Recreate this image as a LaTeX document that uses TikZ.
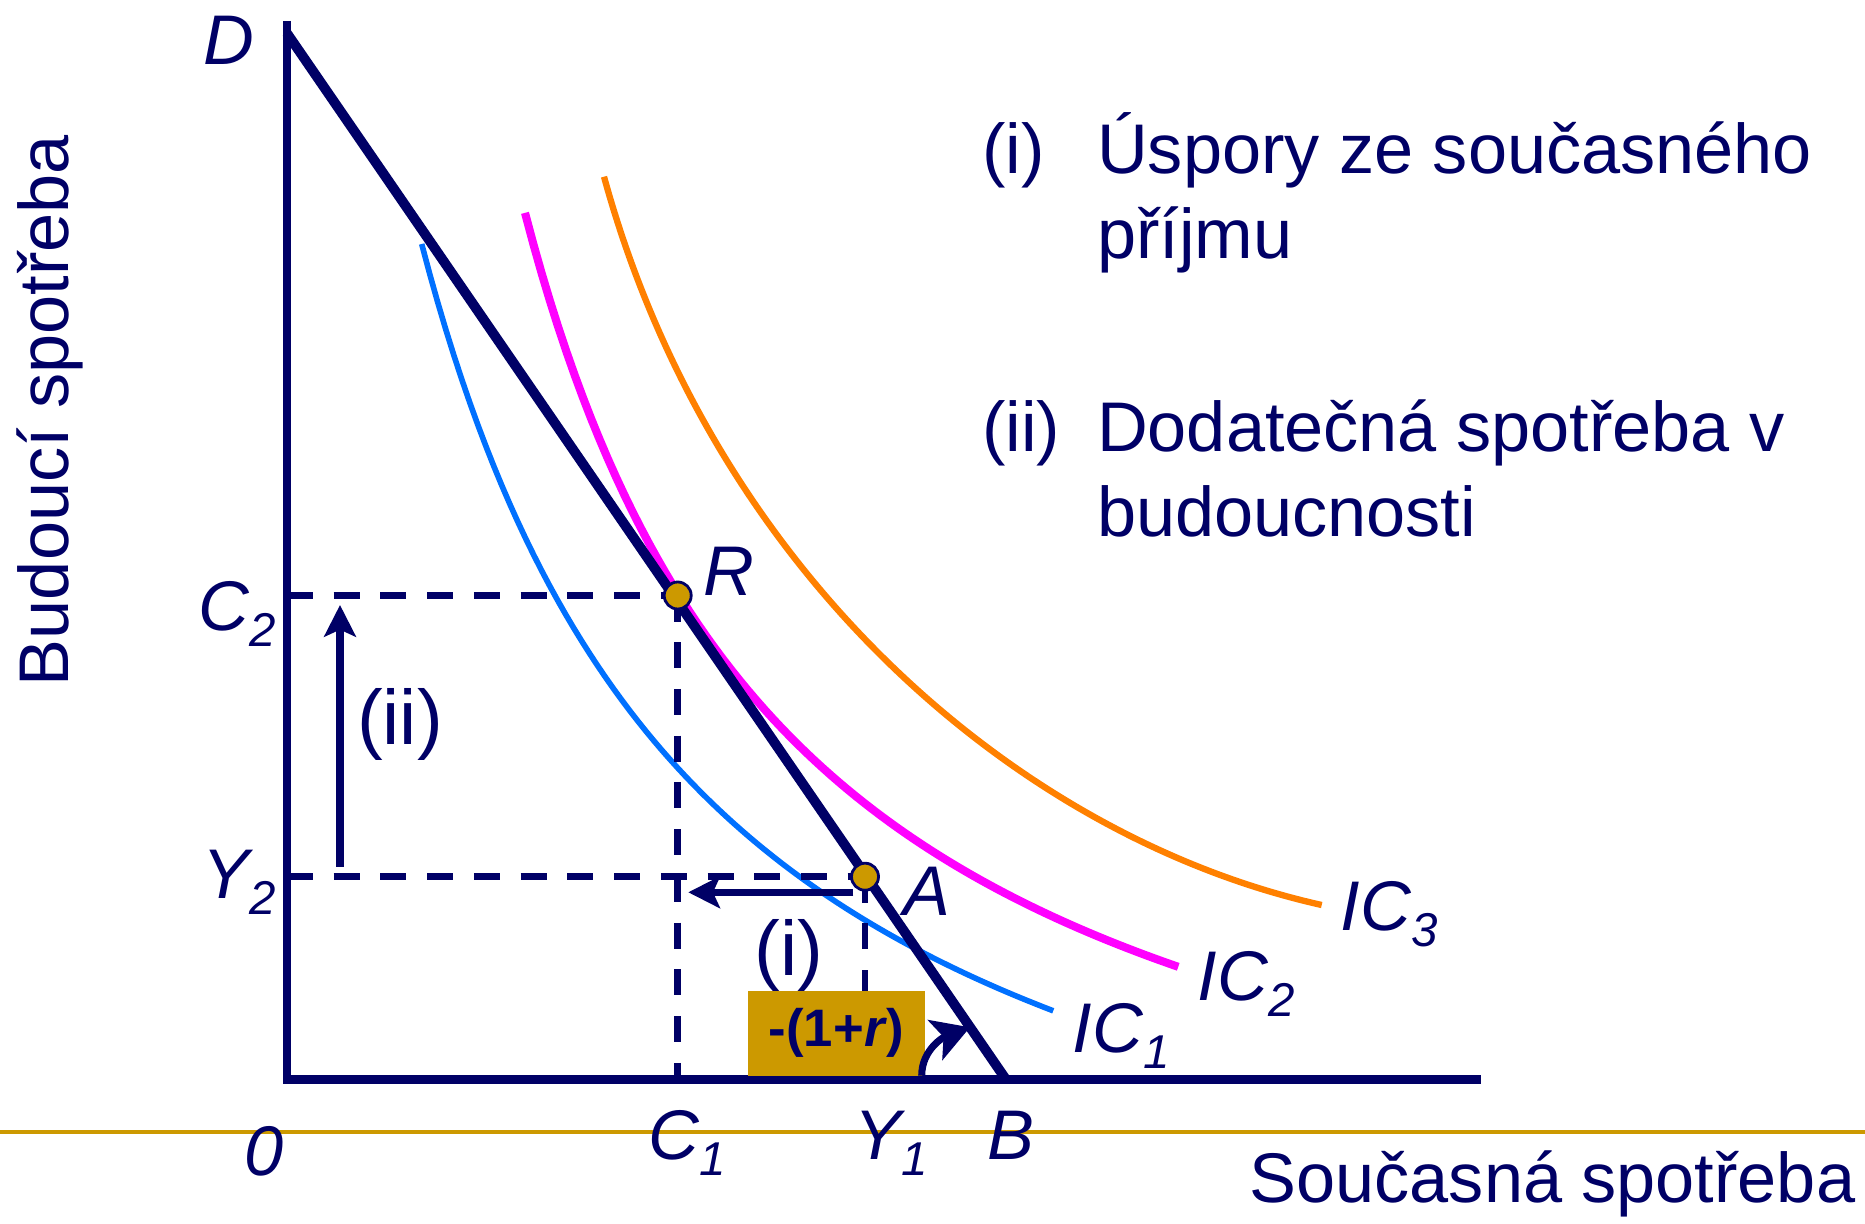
\documentclass[tikz,border=0pt]{standalone}
\usepackage{fontspec}
\setmainfont{Liberation Sans}
\usetikzlibrary{arrows.meta}

\definecolor{navy}{RGB}{0,0,102}
\definecolor{gold}{RGB}{204,153,0}
\definecolor{icblue}{RGB}{0,112,255}
\definecolor{icmagenta}{RGB}{255,0,255}
\definecolor{icorange}{RGB}{255,128,0}

\newcommand{\lowidx}[1]{\raisebox{-0.24em}{\fontsize{13.5}{14}\selectfont #1}}

\tikzset{
    axisline/.style={navy, line width=2.4pt, line join=miter},
    budget/.style={navy, line width=2.8pt},
    guide/.style={navy, line width=1.9pt, dash pattern=on 7.4pt off 5.9pt},
    moveline/.style={navy, line width=2pt, -{Stealth[length=9pt, width=9pt, inset=2pt]}},
    dot/.style={circle, fill=gold, draw=navy, line width=0.8pt, minimum size=0.27cm, inner sep=0pt},
    lab/.style={anchor=base west, font=\fontsize{20}{24.2}\selectfont\itshape},
}

\begin{document}
\begin{tikzpicture}[every node/.style={text=navy, inner sep=0pt}, font=\fontsize{20}{24.2}\selectfont]

        \useasboundingbox (0,0) rectangle (18.65,12.23);

        \coordinate (O) at (2.868, 1.435);   % origin
        \coordinate (Top) at (2.868, 12.02); % top of y axis
        \coordinate (Right) at (14.81, 1.435); % end of x axis
        \coordinate (Dpt) at (2.868, 11.90);
        \coordinate (Bpt) at (10.06, 1.435);
        \coordinate (R) at (6.777, 6.275);
        \coordinate (A) at (8.65, 3.463);
        \coordinate (C2ax) at (2.868, 6.275);
        \coordinate (Y2ax) at (2.868, 3.463);
        \coordinate (C1ax) at (6.777, 1.435);
        \coordinate (Y1ax) at (8.65, 1.435);

        % baseline strip
        \coordinate (GL) at (0, 0.91);
        \coordinate (GR) at (18.65, 0.91);
        \draw[gold, line width=1.2pt] (GL) -- (GR);

        % indifference curves
        \draw[icblue, line width=1.6pt] plot[domain=4.217:10.533, samples=80] (\x, {-1.42+32.7/(\x-1.3)});
        \draw[icmagenta, line width=2.3pt] plot[domain=5.25:11.783, samples=80] (\x, {-0.67+30.16/(\x-2.45)});
        \coordinate (IC3s) at (6.04, 10.463);
        \coordinate (IC3e) at (13.217, 3.18);
        \draw[icorange, line width=1.8pt] (IC3s) .. controls (7.14, 6.459) and (10.217, 3.85) .. (IC3e);

        % guides
        \draw[guide] (C2ax) -- (R);
        \draw[guide] (R) -- (C1ax);
        \draw[guide] (Y2ax) -- (A);
        \draw[guide] (A) -- (Y1ax);

        % budget line and axes
        \draw[budget] (Dpt) -- (Bpt);
        \draw[axisline] (Top) -- (O) -- (Right);

        % moves (i) and (ii)
        \coordinate (iS) at (8.533, 3.307);
        \coordinate (iE) at (6.883, 3.307);
        \coordinate (iiS) at (3.40, 3.563);
        \coordinate (iiE) at (3.40, 6.18);
        \draw[moveline] (iS) -- (iE);
        \draw[moveline] (iiS) -- (iiE);

        \node[dot] (Rdot) at (R) {};
        \node[dot] (Adot) at (A) {};

        \node[font=\fontsize{22}{24}\selectfont] (iLab) at (7.89, 2.68) {(i)};
        \node[font=\fontsize{22}{24}\selectfont] (iiLab) at (4.00, 4.99) {(ii)};

        % slope
        \node[fill=gold, minimum width=1.767cm, minimum height=0.847cm, font=\fontsize{15}{16}\selectfont\bfseries] (Slope) at (8.367, 1.897) {-(1+\textit{r})};
        \coordinate (ArcS) at (9.217, 1.473);
        \coordinate (ArcE) at (9.70, 1.957);
        \draw[navy, line width=2pt, -{Stealth[length=10.5pt, width=12pt, inset=2.5pt]}] (ArcS) to[out=90, in=200] (ArcE);

        % point labels
        \node[lab] (Dlab) at (2.03, 11.58) {D};
        \node[lab] (Rlab) at (7.03, 6.28) {R};
        \node[lab] (Alab) at (9.03, 3.08) {A};
        \node[lab] (C2lab) at (1.98, 5.93) {C\lowidx{2}};
        \node[lab] (Y2lab) at (2.02, 3.25) {Y\lowidx{2}};
        \node[lab] (Olab) at (2.44, 0.48) {0};
        \node[lab] (C1lab) at (6.48, 0.64) {C\lowidx{1}};
        \node[lab] (Y1lab) at (8.54, 0.64) {Y\lowidx{1}};
        \node[lab] (Blab) at (9.87, 0.64) {B};
        \node[lab] (IC1lab) at (10.72, 1.71) {IC\lowidx{1}};
        \node[lab] (IC2lab) at (11.97, 2.23) {IC\lowidx{2}};
        \node[lab] (IC3lab) at (13.40, 2.93) {IC\lowidx{3}};

        % axis titles
        \node[anchor=base east] (xTitle) at (18.56, 0.21) {Současná spotřeba};
        \node[anchor=base, rotate=90] (yTitle) at (0.68, 8.125) {Budoucí spotřeba};

        % legend (base = last line)
        \node[anchor=base west] (iKey) at (9.816, 10.497) {(i)};
        \node[anchor=base west, align=left] (iText) at (10.964, 9.646) {Úspory ze současného\\příjmu};
        \node[anchor=base west] (iiKey) at (9.816, 7.713) {(ii)};
        \node[anchor=base west, align=left] (iiText) at (10.964, 6.862) {Dodatečná spotřeba v\\budoucnosti};

    \end{tikzpicture}
\end{document}
